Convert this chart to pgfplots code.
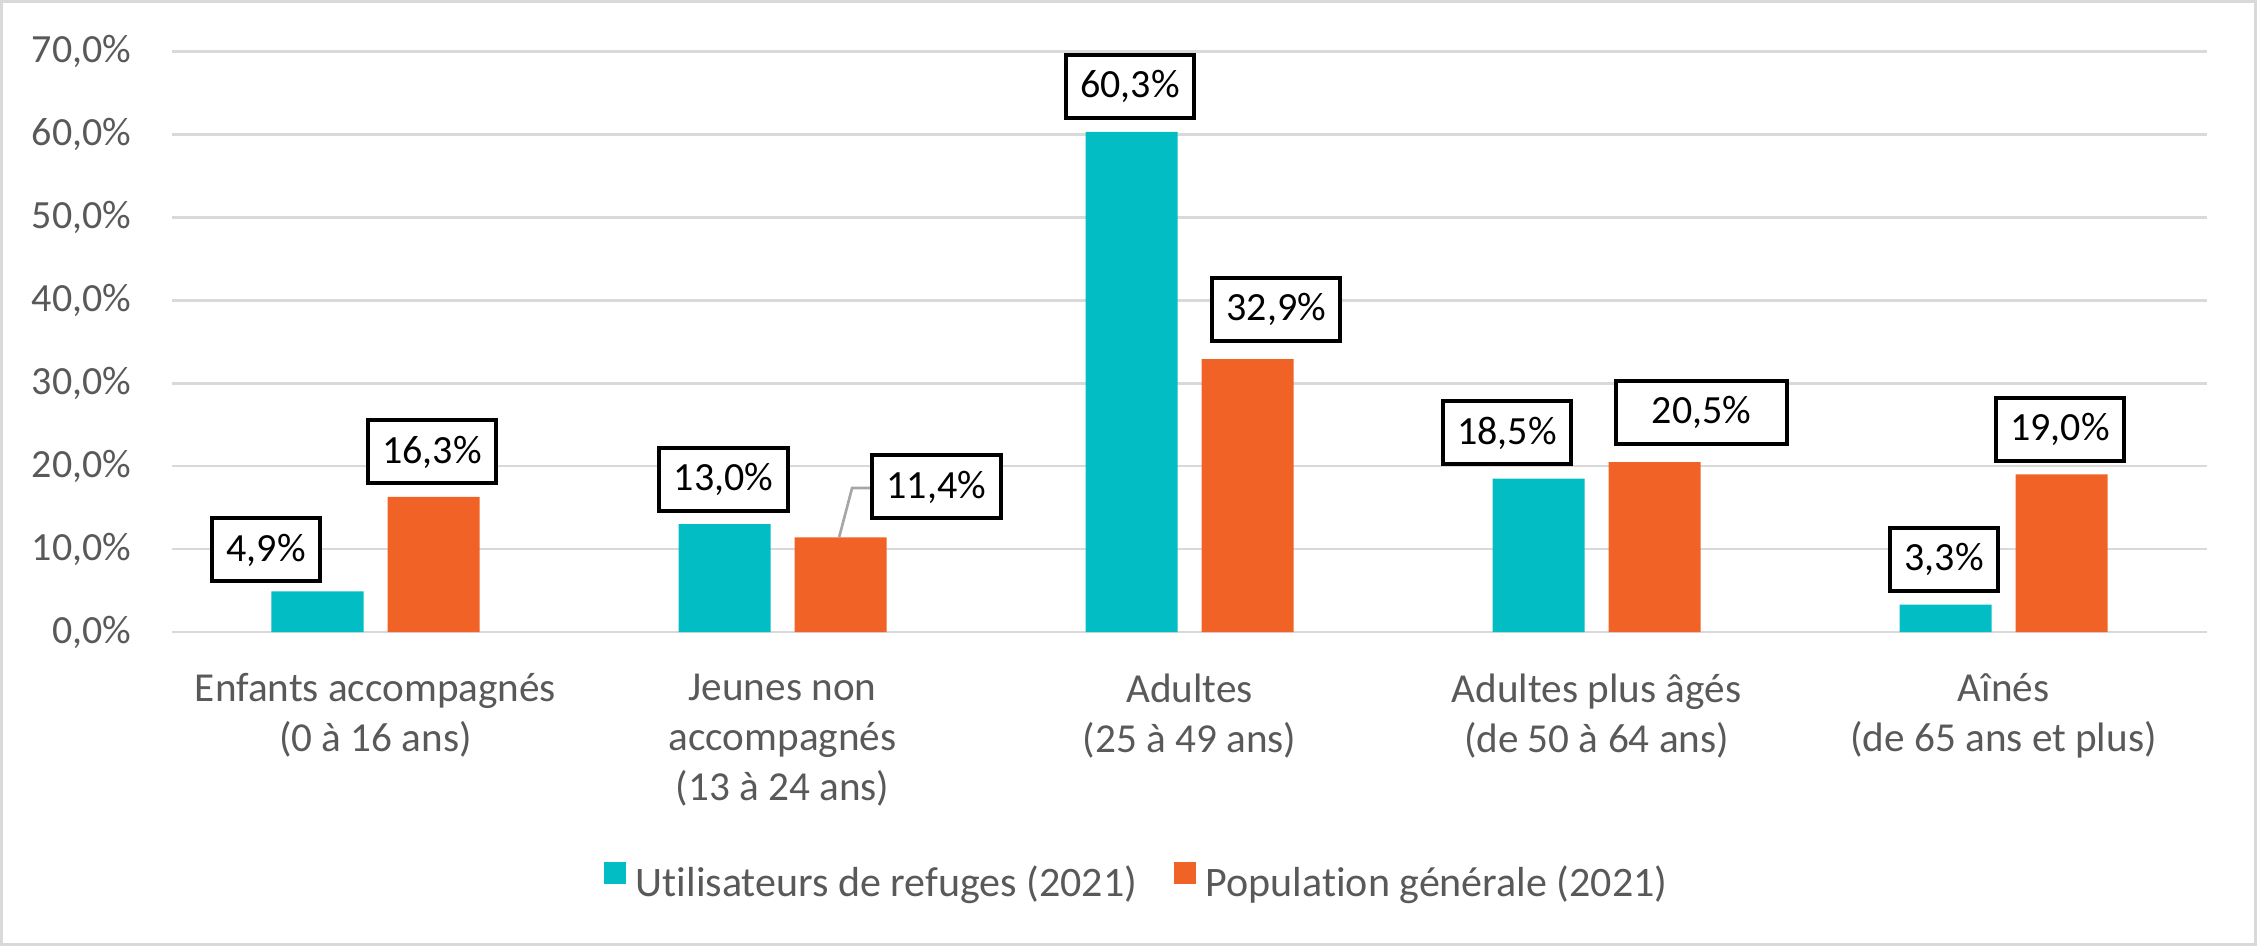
\documentclass[border=0pt]{standalone}
\usepackage{fontspec}
\setmainfont{Carlito}[Ligatures=NoCommon]
\usepackage{pgfplots}
\pgfplotsset{compat=1.18}
\definecolor{teal1}{RGB}{3,189,197}
\definecolor{orange1}{RGB}{240,98,37}
\definecolor{gridgray}{RGB}{217,217,217}
\definecolor{textgray}{RGB}{89,89,89}
\definecolor{leader}{RGB}{166,166,166}
\tikzset{lbl/.style={draw=black, line width=1.2pt, fill=white, inner xsep=4.35pt, inner ysep=0pt, minimum height=18.9pt, text=black, font=\fontsize{12pt}{15pt}\selectfont}}
\begin{document}
\begin{tikzpicture}[font=\fontsize{12pt}{15pt}\selectfont]
\useasboundingbox (0,0) rectangle (677.1pt,283.8pt);
\draw[gridgray, line width=0.9pt] (0.45pt,0.45pt) rectangle (676.65pt,283.35pt);
\begin{axis}[
  at={(51.6pt,94.2pt)}, anchor=south west,
  scale only axis, width=610.5pt, height=174.15pt,
  ybar, bar width=27.6pt,
  xmin=-0.5, xmax=4.5, ymin=0, ymax=70,
  xtick={0,1,2,3,4},
  xticklabels={Enfants accompagnés\\(0 à 16 ans), Jeunes non\\accompagnés\\(13 à 24 ans), Adultes\\(25 à 49 ans), Adultes plus âgés\\(de 50 à 64 ans), Aînés\\(de 65 ans et plus)},
  ytick={0,10,20,30,40,50,60,70},
  ymajorgrids, grid style={gridgray, line width=0.8pt},
  axis line style={draw=none},
  major tick length=0pt,
  tick label style={text=textgray, font=\fontsize{12pt}{15pt}\selectfont},
  xticklabel style={align=center, anchor=north, inner sep=0pt, yshift=-12.3pt, font=\fontsize{12.35pt}{15pt}\selectfont},
  yticklabel style={anchor=east, inner sep=0pt, xshift=-12pt},
  /pgf/number format/assume math mode=true,
  yticklabel={\pgfmathprintnumber[fixed,fixed zerofill,precision=1,use comma]{\tick}\%},
  clip=false,
  legend columns=2,
  legend style={at={(0.4737,-0.4298)}, anchor=center, draw=none, fill=none, inner sep=0pt,
    column sep=2.8pt, /tikz/every even column/.append style={column sep=11.2pt},
    nodes={inner sep=0pt, text=textgray, font=\fontsize{12.6pt}{15pt}\selectfont}},
  legend image code/.code={\fill[#1] (0pt,0pt) rectangle (6.6pt,6.6pt);},
]
\addplot[fill=teal1, draw=none, bar shift=-17.4pt] coordinates {(0,4.9) (1,13.0) (2,60.3) (3,18.5) (4,3.3)};
\addplot[fill=orange1, draw=none, bar shift=17.4pt] coordinates {(0,16.3) (1,11.4) (2,32.9) (3,20.5) (4,19.0)};
\legend{Utilisateurs de refuges (2021), Population générale (2021)}
\draw[leader, line width=0.8pt] (axis cs:1.139,11.4) -- (axis cs:1.171,17.37) -- (axis cs:1.22,17.37);
\node[lbl] at (axis cs:-0.269,9.89) {4,9\%};
\node[lbl] at (axis cs:0.139,21.71) {16,3\%};
\node[lbl] at (axis cs:0.855,18.34) {13,0\%};
\node[lbl] at (axis cs:1.378,17.49) {11,4\%};
\node[lbl] at (axis cs:1.854,65.80) {60,3\%};
\node[lbl] at (axis cs:2.213,38.90) {32,9\%};
\node[lbl] at (axis cs:2.780,24.0) {18,5\%};
\node[lbl, minimum width=51.3pt] at (axis cs:3.258,26.42) {20,5\%};
\node[lbl] at (axis cs:3.854,8.75) {3,3\%};
\node[lbl] at (axis cs:4.139,24.43) {19,0\%};
\end{axis}
\end{tikzpicture}
\end{document}
